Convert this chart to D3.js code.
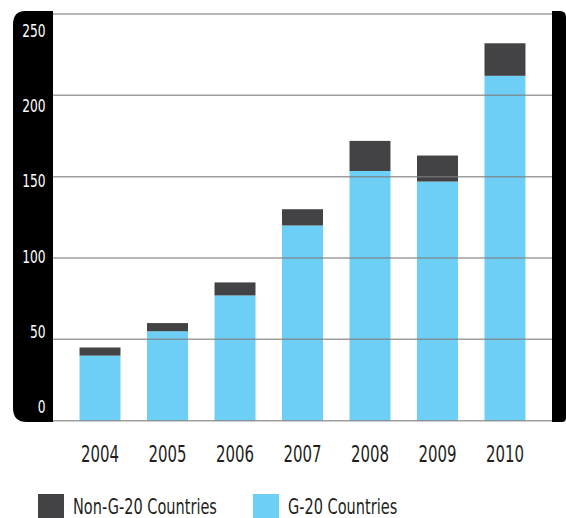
<!DOCTYPE html>
<html>
<head>
<meta charset="utf-8">
<script src="https://cdn.jsdelivr.net/npm/d3@7"></script>
<style>
  body { margin: 0; background: #fff; }
  text { font-family: "DejaVu Sans", sans-serif; }
</style>
</head>
<body>
<div id="chart"></div>
<script>
var years = ["2004","2005","2006","2007","2008","2009","2010"]
var g20 = [40, 55, 77, 120, 153.5, 147, 212]
var nonG20 = [5, 5, 8, 10, 18.5, 16, 20]
var yTicks = [0, 50, 100, 150, 200, 250]
var legendLabels = ["Non-G-20 Countries", "G-20 Countries"]

var colors = { g20: "#6dcff6", non: "#434345" }

var W = 566, H = 518
var svg = d3.select("#chart").append("svg").attr("width", W).attr("height", H)

var x = d3.scaleBand().domain(years).range([53, 552]).padding(0.393)
var y = d3.scaleLinear().domain([0, 250]).range([420.7, 14])
// tick labels in the source sit on their own, slightly tighter spacing
var yLab = d3.scaleLinear().domain([0, 250]).range([412, 36])

// squeeze text to look like the condensed face of the original
function condense(sel, f){
  sel.each(function(){
    var w = this.getComputedTextLength()
    d3.select(this).attr("textLength", w * f).attr("lengthAdjust", "spacingAndGlyphs")
  })
}

// left black panel, rounded on the outer side
svg.append("path")
  .attr("d", "M53,11 L25,11 Q13,11 13,25 L13,408 Q13,422 27,422 L53,422 Z")
  .attr("fill", "#000")
// right black strip
svg.append("path")
  .attr("d", "M552,11 L560,11 Q566,11 566,17 L566,418 Q566,422 562,422 L552,422 Z")
  .attr("fill", "#000")

var rows = years.map(function(d, i){ return { year: d, g20: g20[i], non: nonG20[i] } })
var series = d3.stack().keys(["g20", "non"])(rows)

svg.selectAll("g.layer").data(series).enter().append("g")
  .attr("class", "layer")
  .attr("fill", function(d){ return colors[d.key] })
  .selectAll("rect").data(function(d){ return d }).enter().append("rect")
  .attr("x", function(d){ return x(d.data.year) })
  .attr("width", x.bandwidth())
  .attr("y", function(d){ return y(d[1]) })
  .attr("height", function(d){ return y(d[0]) - y(d[1]) })

// gridlines drawn over the bars
svg.selectAll("line.grid").data(yTicks).enter().append("line")
  .attr("class", "grid")
  .attr("x1", 53).attr("x2", 552)
  .attr("y1", function(d){ return y(d) }).attr("y2", function(d){ return y(d) })
  .attr("stroke", "#7d7d7d")
  .attr("stroke-opacity", 0.75)
  .attr("stroke-width", 1.5)

svg.selectAll("text.ylab").data(yTicks).enter().append("text")
  .attr("class", "ylab")
  .attr("x", 45.5)
  .attr("y", function(d){ return yLab(d) + 1 })
  .attr("text-anchor", "end")
  .attr("fill", "#fff")
  .attr("font-size", 18)
  .text(function(d){ return d })
  .call(condense, 0.68)

svg.selectAll("text.xlab").data(years).enter().append("text")
  .attr("class", "xlab")
  .attr("x", function(d){ return x(d) + x.bandwidth() / 2 })
  .attr("y", 461.7)
  .attr("text-anchor", "middle")
  .attr("fill", "#231f20")
  .attr("font-size", 23)
  .text(function(d){ return d })
  .call(condense, 0.65)

// legend
var legend = svg.selectAll("g.legend").data(legendLabels).enter().append("g")
  .attr("class", "legend")
  .attr("transform", function(d, i){ return "translate(" + (i == 0 ? 38 : 253) + ",494)" })
legend.append("rect")
  .attr("width", 26).attr("height", 24)
  .attr("fill", function(d, i){ return i == 0 ? colors.non : colors.g20 })
legend.append("text")
  .attr("x", 35).attr("y", 20)
  .attr("fill", "#231f20")
  .attr("font-size", 22)
  .text(function(d){ return d })
  .call(condense, 0.66)
</script>
</body>
</html>
